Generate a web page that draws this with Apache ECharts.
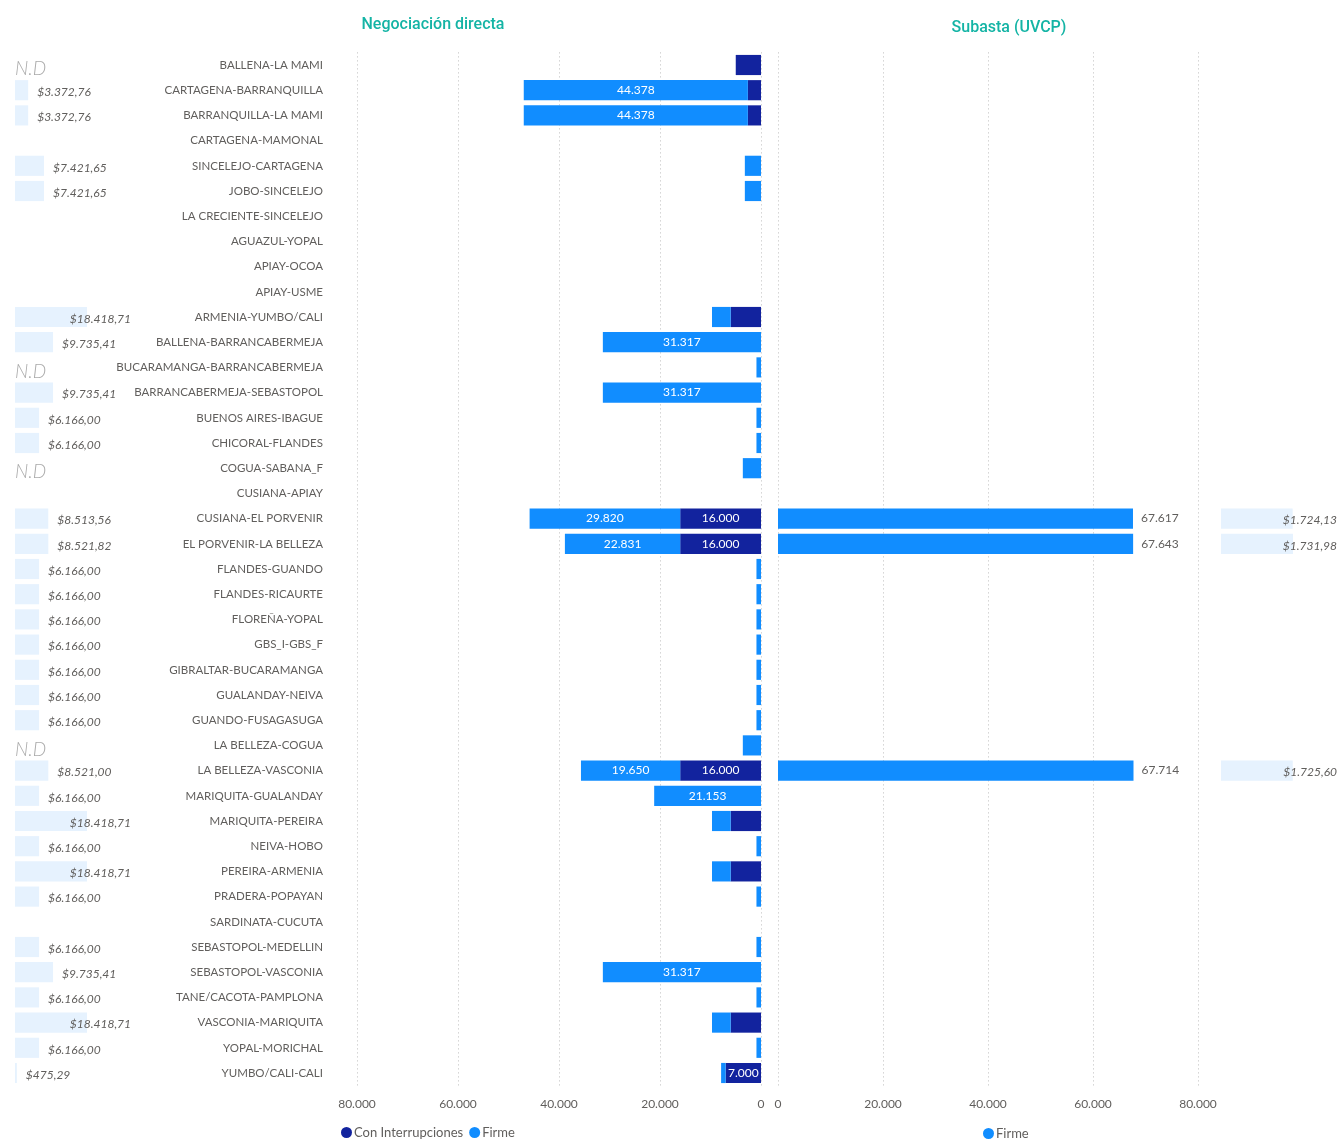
<!DOCTYPE html>
<html><head><meta charset="utf-8">
<script src="https://cdn.jsdelivr.net/npm/echarts@6/dist/echarts.min.js"></script>
<style>html,body{margin:0;padding:0;background:#fff}#c{width:1339px;height:1140px}</style>
</head><body><div id="c"></div>
<script>
const categories = ['BALLENA-LA MAMI','CARTAGENA-BARRANQUILLA','BARRANQUILLA-LA MAMI','CARTAGENA-MAMONAL','SINCELEJO-CARTAGENA','JOBO-SINCELEJO','LA CRECIENTE-SINCELEJO','AGUAZUL-YOPAL','APIAY-OCOA','APIAY-USME','ARMENIA-YUMBO/CALI','BALLENA-BARRANCABERMEJA','BUCARAMANGA-BARRANCABERMEJA','BARRANCABERMEJA-SEBASTOPOL','BUENOS AIRES-IBAGUE','CHICORAL-FLANDES','COGUA-SABANA_F','CUSIANA-APIAY','CUSIANA-EL PORVENIR','EL PORVENIR-LA BELLEZA','FLANDES-GUANDO','FLANDES-RICAURTE','FLOREÑA-YOPAL','GBS_I-GBS_F','GIBRALTAR-BUCARAMANGA','GUALANDAY-NEIVA','GUANDO-FUSAGASUGA','LA BELLEZA-COGUA','LA BELLEZA-VASCONIA','MARIQUITA-GUALANDAY','MARIQUITA-PEREIRA','NEIVA-HOBO','PEREIRA-ARMENIA','PRADERA-POPAYAN','SARDINATA-CUCUTA','SEBASTOPOL-MEDELLIN','SEBASTOPOL-VASCONIA','TANE/CACOTA-PAMPLONA','VASCONIA-MARIQUITA','YOPAL-MORICHAL','YUMBO/CALI-CALI'];

// Negociación directa - Firme
const firmeNeg = [null,44378,44378,null,3200,3200,null,null,null,null,3700,31317,900,31317,900,900,3600,null,29820,22831,900,900,900,900,900,900,900,3600,19650,21153,3700,900,3700,900,null,900,31317,900,3700,900,900];
// Negociación directa - Con Interrupciones
const interNeg = [5000,2600,2600,null,null,null,null,null,null,null,6000,null,null,null,null,null,null,null,16000,16000,null,null,null,null,null,null,null,null,16000,null,6000,null,6000,null,null,null,null,null,6000,null,7000];
// Subasta (UVCP) - Firme
const firmeSub = [null,null,null,null,null,null,null,null,null,null,null,null,null,null,null,null,null,null,67617,67643,null,null,null,null,null,null,null,null,67714,null,null,null,null,null,null,null,null,null,null,null,null];
// Precio negociación directa ('N.D' = no disponible)
const priceNeg = ['N.D',3372.76,3372.76,null,7421.65,7421.65,null,null,null,null,18418.71,9735.41,'N.D',9735.41,6166.00,6166.00,'N.D',null,8513.56,8521.82,6166.00,6166.00,6166.00,6166.00,6166.00,6166.00,6166.00,'N.D',8521.00,6166.00,18418.71,6166.00,18418.71,6166.00,null,6166.00,9735.41,6166.00,18418.71,6166.00,475.29];
// Precio subasta
const priceSub = [null,null,null,null,null,null,null,null,null,null,null,null,null,null,null,null,null,null,1724.13,1731.98,null,null,null,null,null,null,null,null,1725.60,null,null,null,null,null,null,null,null,null,null,null,null];

const FONT = '"Segoe UI", Lato, "Noto Sans", sans-serif';
const GREY = '#605E5C';
const C_FIRME = '#118DFF', C_INTER = '#12239E';

function thousands(v){ return String(Math.round(v)).replace(/\B(?=(\d{3})+(?!\d))/g,'.'); }
function fmtPrice(v){ const p = v.toFixed(2).split('.'); return '$' + p[0].replace(/\B(?=(\d{3})+(?!\d))/g,'.') + ',' + p[1]; }

const cv = document.createElement('canvas').getContext('2d');
const PRICE_FONT = 'italic 12px ' + FONT;
function measure(t, f){ cv.font = f; return cv.measureText(t).width; }

function numMax(arr){ return Math.max.apply(null, arr.filter(v => typeof v === 'number')); }

function priceSeries(values, gridIdx){
  const data = [];
  values.forEach((v,i)=>{ if (v !== null) data.push([typeof v === 'number' ? v : 0, i]); });
  return {
    type: 'custom', xAxisIndex: gridIdx, yAxisIndex: gridIdx, silent: true,
    data: data,
    renderItem: function(params, api){
      const i = api.value(1);
      const v = values[i];
      const s = api.coord([0, i]);
      const cs = params.coordSys;
      if (v === 'N.D') {
        return {type:'text', style:{text:'N.D', x:s[0], y:s[1]+4, fill:'#ABABAB', font:'italic 300 19px ' + FONT, textAlign:'left', textVerticalAlign:'middle'}};
      }
      const e = api.coord([v, i]);
      const bh = api.size([0,1])[1] * 0.8;
      const label = fmtPrice(v);
      const w = measure(label, PRICE_FONT);
      const tx = Math.min(e[0] + 9, cs.x + cs.width - w);
      return {type:'group', children:[
        {type:'rect', shape:{x:s[0], y:s[1]-bh/2, width:e[0]-s[0], height:bh}, style:{fill:'#E6F2FE'}},
        {type:'text', style:{text:label, x:tx, y:s[1]+2, fill:GREY, font:PRICE_FONT, textAlign:'left', textVerticalAlign:'middle'}}
      ]};
    }
  };
}

const TOP = 52.4, H = 1033.2;
const grids = [
  {left:15, top:TOP, width:116, height:H},
  {left:357, top:TOP, width:404, height:H},
  {left:778, top:TOP, width:420, height:H},
  {left:1221, top:TOP, width:116, height:H}
];
const catAxis = (idx, show) => ({
  type:'category', gridIndex:idx, data:categories, inverse:true,
  axisLine:{show:false, onZero:false}, axisTick:{show:false}, position:'left',
  axisLabel:{show:show, color:GREY, fontSize:11.5, fontFamily:FONT, margin:34}
});
const valAxis = (idx, inverse) => ({
  type:'value', gridIndex:idx, min:0, max:80000, interval:20000, inverse:inverse,
  axisLine:{show:false}, axisTick:{show:false},
  axisLabel:{color:GREY, fontSize:12, fontFamily:FONT, margin:13, formatter: v => thousands(v)},
  splitLine:{show:true, lineStyle:{type:[1,3], color:'#BDBDBD', width:1}}
});

const option = {
  animation:false,
  backgroundColor:'#fff',
  title:[
    {text:'Negociación directa', left:428, top:12, textAlign:'center', textStyle:{color:'#14B4A5', fontSize:16, fontWeight:500, fontFamily:'Roboto, sans-serif'}},
    {text:'Subasta (UVCP)', left:1004, top:15, textAlign:'center', textStyle:{color:'#14B4A5', fontSize:16, fontWeight:500, fontFamily:'Roboto, sans-serif'}}
  ],
  legend:[
    {data:['Con Interrupciones','Firme'], left:341, top:1126, icon:'circle', itemWidth:11, itemHeight:11, itemGap:6, padding:0, textStyle:{color:GREY, fontSize:13, fontFamily:FONT, padding:[0,0,0,-3]}},
    {data:['Firme'], left:983, top:1127, icon:'circle', itemWidth:11, itemHeight:11, padding:0, textStyle:{color:GREY, fontSize:13, fontFamily:FONT, padding:[0,0,0,-3]}}
  ],
  grid:grids,
  xAxis:[
    {type:'value', gridIndex:0, min:0, max:numMax(priceNeg)*116/72, show:false},
    valAxis(1, true),
    valAxis(2, false),
    {type:'value', gridIndex:3, min:0, max:numMax(priceSub)*116/72, show:false}
  ],
  yAxis:[catAxis(0,false), catAxis(1,true), catAxis(2,false), catAxis(3,false)],
  series:[
    priceSeries(priceNeg, 0),
    {name:'Con Interrupciones', type:'bar', xAxisIndex:1, yAxisIndex:1, stack:'neg', data:interNeg, barCategoryGap:'20%',
      itemStyle:{color:C_INTER},
      label:{show:true, position:'inside', color:'#fff', fontSize:12, fontFamily:FONT, formatter:p => p.value >= 6500 ? thousands(p.value) : ''}},
    {name:'Firme', type:'bar', xAxisIndex:1, yAxisIndex:1, stack:'neg', data:firmeNeg, barCategoryGap:'20%',
      itemStyle:{color:C_FIRME},
      label:{show:true, position:'inside', color:'#fff', fontSize:12, fontFamily:FONT, formatter:p => p.value >= 6500 ? thousands(p.value) : ''}},
    {name:'Firme', type:'bar', xAxisIndex:2, yAxisIndex:2, data:firmeSub, barCategoryGap:'20%',
      itemStyle:{color:C_FIRME},
      label:{show:true, position:'right', distance:8, color:GREY, fontSize:12, fontFamily:FONT, formatter:p => thousands(p.value)}},
    priceSeries(priceSub, 3)
  ]
};
echarts.init(document.getElementById('c'), null, {renderer:'canvas'}).setOption(option);
</script></body></html>
